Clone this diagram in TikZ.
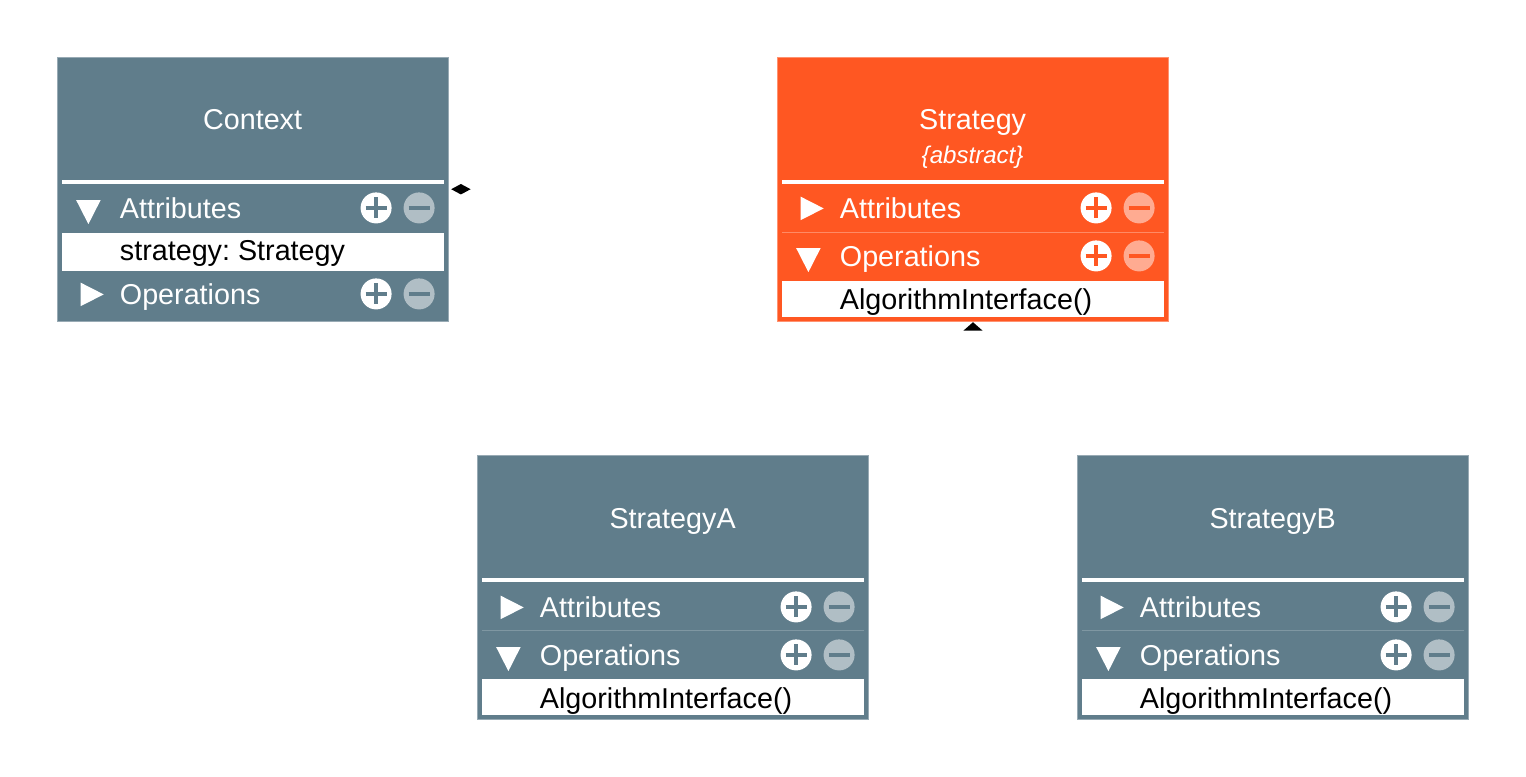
\documentclass[tikz,border=0pt]{standalone}
\usepackage{fontspec}
\setmainfont{Liberation Sans}
\usetikzlibrary{calc,shapes.geometric,positioning}
\definecolor{slate}{HTML}{607D8B}
\definecolor{slatelight}{HTML}{B0BEC5}
\definecolor{slateline}{HTML}{7F97A2}
\definecolor{flame}{HTML}{FF5722}
\definecolor{flamelight}{HTML}{FFAB91}
\definecolor{flameline}{HTML}{FF8A65}
\frenchspacing
\tikzset{
  classbody/.style={rectangle,inner sep=0pt,minimum width=3.9cm,minimum height=2.63cm,line width=0.28pt},
  strip/.style={rectangle,inner sep=0pt,minimum width=3.82cm,fill=white},
  thinline/.style={rectangle,inner sep=0pt,minimum width=3.82cm,minimum height=0.01cm},
  titletext/.style={inner sep=0pt,text=white,font=\fontsize{8.17}{10}\selectfont},
  abstracttext/.style={inner sep=0pt,text=white,font=\fontsize{6.85}{8}\selectfont\itshape},
  rowtext/.style={inner sep=0pt,anchor=base west,font=\fontsize{8.17}{10}\selectfont},
  opened/.style={isosceles triangle,isosceles triangle apex angle=54,shape border rotate=-90,fill=white,inner sep=0pt,minimum height=0.24cm,yshift=0.008cm},
  closed/.style={isosceles triangle,isosceles triangle apex angle=54,fill=white,inner sep=0pt,minimum height=0.23cm},
  plusbtn/.style={circle,fill=white,inner sep=0pt,minimum size=0.31cm,path picture={
    \draw[#1,line width=1.05pt] ($(path picture bounding box.center)+(-10.5,0)$)--($(path picture bounding box.center)+(10.5,0)$);
    \draw[#1,line width=1.05pt] ($(path picture bounding box.center)+(0,-10.5)$)--($(path picture bounding box.center)+(0,10.5)$);}},
  minusbtn/.style 2 args={circle,fill=#2,inner sep=0pt,minimum size=0.31cm,path picture={
    \draw[#1,line width=1.05pt] ($(path picture bounding box.center)+(-10.5,0)$)--($(path picture bounding box.center)+(10.5,0)$);}},
}
% box name, centre, fill, light tone, title, title baseline
\newcommand{\classbox}[6]{
  \node[classbody,fill=#3,draw=#4!70!#3] (#1) at (#2) {};
  \node at ($(#1.north west)+(195.2,#6)$)[titletext,anchor=base,name=#1title]{#5};
  \node at ($(#1.north west)+(195.4,124.5)$)[strip,minimum height=0.04cm,name=#1bar]{};
}
% box name, row tag, centre of row, triangle style and its x, label, colour, light tone
\newcommand{\classrow}[8]{
  \node at ($(#1.north west)+(#5,#3)$)[#4,name=#1#2mark]{};
  \node at ($(#1.north west)+(61.8,#3+10)$)[rowtext,text=white,name=#1#2label]{#6};
  \node at ($(#1.north west)+(318.7,#3-0.5)$)[plusbtn=#7,name=#1#2plus]{};
  \node at ($(#1.north west)+(361.7,#3-0.5)$)[minusbtn={#7}{#8},name=#1#2minus]{};
}
\begin{document}
\begin{tikzpicture}[x=0.01cm,y=-0.01cm]
  \useasboundingbox (0,0) rectangle (1526,777);
  % context
  \classbox{context}{253,189.5}{slate}{slatelight}{Context}{72}
  \classrow{context}{attr}{151}{opened}{31}{Attributes}{slate}{slatelight}
  \node at ($(context.north west)+(195.4,195)$)[strip,minimum height=0.38cm,name=contextslot]{};
  \node at ($(context.north west)+(61.8,203.5)$)[rowtext,name=contextfield]{strategy: Strategy};
  \classrow{context}{oper}{237}{closed}{30.5}{Operations}{slate}{slatelight}
  % strategy
  \classbox{strategy}{973,189.5}{flame}{flamelight}{Strategy}{72}
  \node at ($(strategy.north west)+(195.2,106)$)[abstracttext,anchor=base,name=strategyabstract]{\{abstract\}};
  \classrow{strategy}{attr}{151}{closed}{30.5}{Attributes}{flame}{flamelight}
  \node at ($(strategy.north west)+(195.4,175)$)[thinline,fill=flameline,name=strategyline]{};
  \classrow{strategy}{oper}{199}{opened}{31}{Operations}{flame}{flamelight}
  \node at ($(strategy.north west)+(195.4,242)$)[strip,minimum height=0.36cm,name=strategyslot]{};
  \node at ($(strategy.north west)+(61.8,252)$)[rowtext,name=strategymethod]{AlgorithmInterface()};
  % strategy a
  \classbox{strategya}{673,587.5}{slate}{slatelight}{StrategyA}{73.5}
  \classrow{strategya}{attr}{152}{closed}{30.5}{Attributes}{slate}{slatelight}
  \node at ($(strategya.north west)+(195.4,175)$)[thinline,fill=slateline,name=strategyaline]{};
  \classrow{strategya}{oper}{200}{opened}{31}{Operations}{slate}{slatelight}
  \node at ($(strategya.north west)+(195.4,241.5)$)[strip,minimum height=0.36cm,name=strategyaslot]{};
  \node at ($(strategya.north west)+(61.8,253)$)[rowtext,name=strategyamethod]{AlgorithmInterface()};
  % strategy b
  \classbox{strategyb}{1273,587.5}{slate}{slatelight}{StrategyB}{73.5}
  \classrow{strategyb}{attr}{152}{closed}{30.5}{Attributes}{slate}{slatelight}
  \node at ($(strategyb.north west)+(195.4,175)$)[thinline,fill=slateline,name=strategybline]{};
  \classrow{strategyb}{oper}{200}{opened}{31}{Operations}{slate}{slatelight}
  \node at ($(strategyb.north west)+(195.4,241.5)$)[strip,minimum height=0.36cm,name=strategybslot]{};
  \node at ($(strategyb.north west)+(61.8,253)$)[rowtext,name=strategybmethod]{AlgorithmInterface()};
  % tips
  \node at ($(context.north east)+(12.3,131.8)$)[diamond,fill=black,inner sep=0pt,minimum width=0.2cm,minimum height=0.11cm,name=contexttip]{};
  \node at ($(strategy.south)+(0,5.5)$)[isosceles triangle,isosceles triangle apex angle=97,shape border rotate=90,fill=black,inner sep=0pt,minimum height=0.085cm,name=strategytip]{};
\end{tikzpicture}
\end{document}
